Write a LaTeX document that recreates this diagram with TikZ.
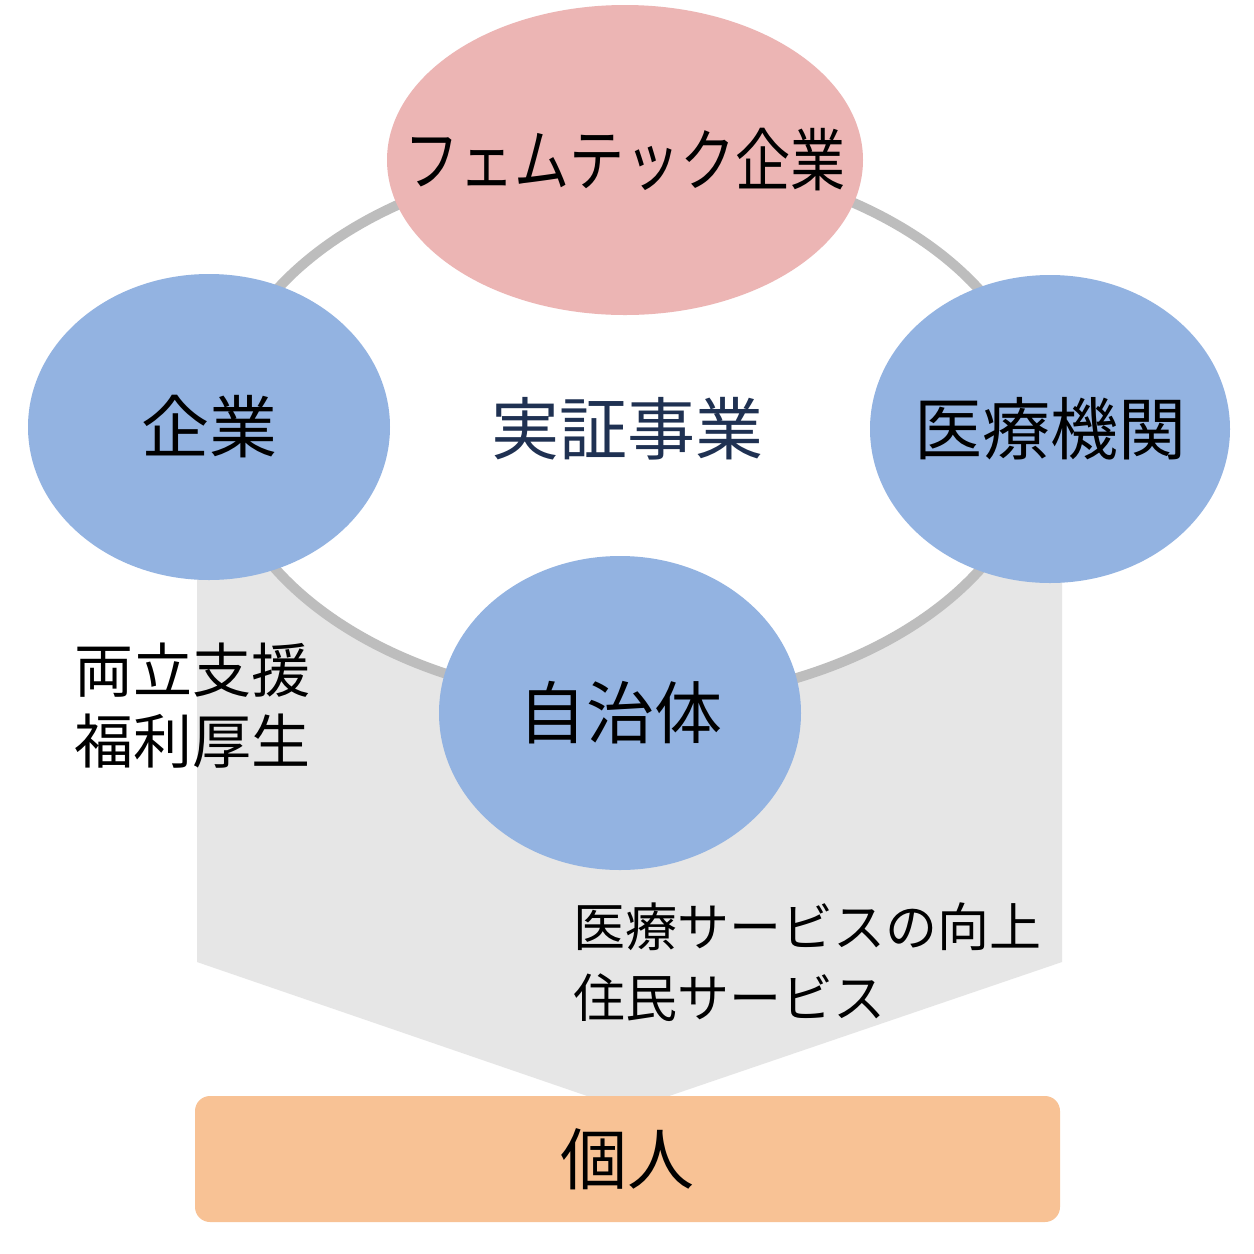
\documentclass[tikz,border=0pt]{standalone}
\usepackage{fontspec}
\newfontfamily\jp{Noto Sans CJK JP}
\usetikzlibrary{shapes.geometric}
\definecolor{pinkfill}{HTML}{ECB5B4}
\definecolor{bluefill}{HTML}{93B3E1}
\definecolor{ringgray}{HTML}{BDBDBD}
\definecolor{areagray}{HTML}{E6E6E6}
\definecolor{orangefill}{HTML}{F8C295}
\definecolor{navytext}{HTML}{1F3152}
\begin{document}
\begin{tikzpicture}[x=1pt,y=-1pt,
  bubble/.style={ellipse, draw=none, inner sep=0pt,
    label={[inner sep=0pt, text=black, font=\jp\fontsize{68}{68}\selectfont]center:#1}},
  pinkbubble/.style={bubble={#1}, fill=pinkfill},
  bluebubble/.style={bubble={#1}, fill=bluefill},
  sidetext/.style={anchor=west, inner sep=0pt, text=black},
]
\useasboundingbox (0,0) rectangle (1254,1254);
\fill[white] (0,0) rectangle (1254,1254);
% gray funnel area
\fill[areagray] (197,450) -- (1062,450) -- (1062,962) -- (628,1110) -- (197,962) -- cycle;
% ring
\draw[ringgray, line width=10pt, fill=white] (628,430) ellipse [x radius=410pt, y radius=272pt];
% bubbles
\node[pinkbubble={\scalebox{0.81}[1]{フェムテック企業}}, minimum width=476pt, minimum height=310pt] (femtech) at (625,160) {};
\node[bluebubble={企業}, minimum width=362pt, minimum height=306pt] (kigyo) at (209,427) {};
\node[bluebubble={医療機関}, minimum width=360pt, minimum height=308pt] (iryo) at (1050,429) {};
\node[bluebubble={自治体}, minimum width=362pt, minimum height=314pt] (jichitai) at (620,713) {};
% center label
\node[inner sep=0pt, text=navytext, font=\jp\fontsize{68}{68}\selectfont] (jissho) at (627.5,428.5) {実証事業};
% side labels
\node[sidetext, font=\jp\fontsize{59}{59}\selectfont] (ryoritsu) at (74,670) {両立支援};
\node[sidetext, font=\jp\fontsize{59}{59}\selectfont] (fukuri) at (74,741.5) {福利厚生};
\node[sidetext, font=\jp\fontsize{52}{52}\selectfont] (iryoserv) at (573,926.5) {医療サービスの向上};
\node[sidetext, font=\jp\fontsize{52}{52}\selectfont] (jumin) at (573,997.5) {住民サービス};
% individual
\node[rectangle, rounded corners=15pt, fill=orangefill, inner sep=0pt,
  minimum width=865pt, minimum height=126pt, font=\jp\fontsize{67}{67}\selectfont]
  (kojin) at (627.5,1159) {個人};
\end{tikzpicture}
\end{document}
